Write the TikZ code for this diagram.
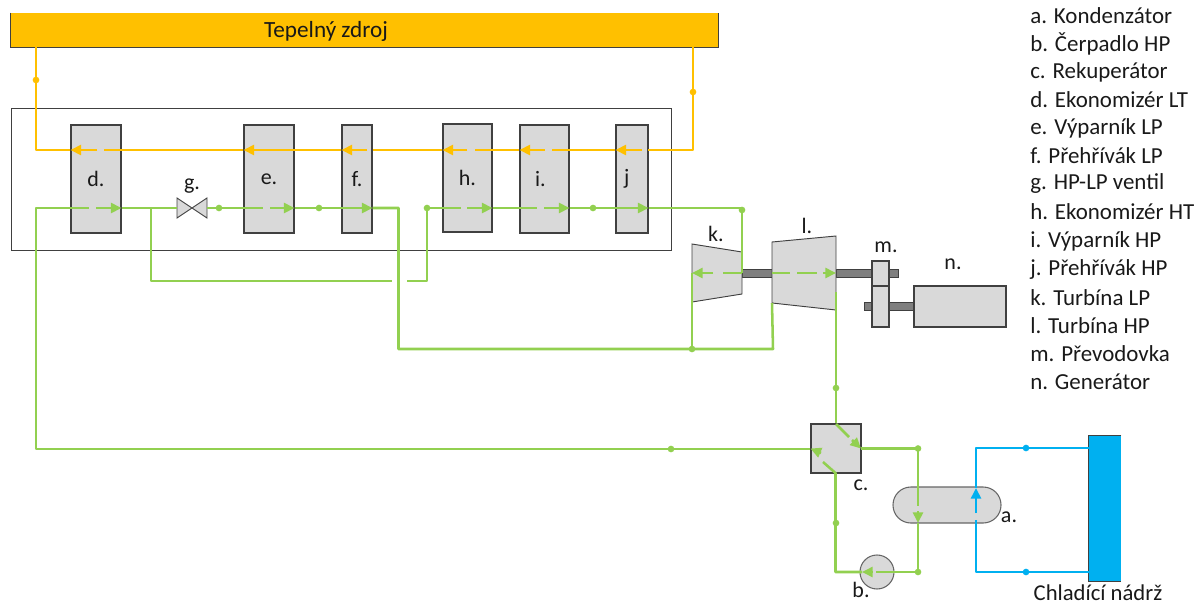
\documentclass[tikz,border=0pt]{standalone}
\usepackage{fontspec}
\setmainfont{Carlito}
\usetikzlibrary{arrows.meta,calc}
\definecolor{flowg}{HTML}{92D050}
\definecolor{flowo}{HTML}{FFC000}
\definecolor{flowb}{HTML}{00B0F0}
\definecolor{boxg}{HTML}{D9D9D9}
\definecolor{edgeg}{HTML}{404040}
\definecolor{shaftg}{HTML}{7F7F7F}
\tikzset{
  x=0.75pt,y=-0.75pt,
  wh/.style 2 args={minimum width=#1*0.75pt,minimum height=#2*0.75pt},
  block/.style={draw=edgeg,fill=boxg,line width=0.8pt,inner sep=0pt,font=\fontsize{16.5}{18}\selectfont,text=black!90},
  shaft/.style={draw=edgeg,fill=shaftg,line width=0.6pt,inner sep=0pt},
  lab/.style={inner sep=0pt,font=\fontsize{16.5}{18}\selectfont,text=black!90},
  legend/.style={inner sep=0pt,anchor=west,font=\fontsize{17.2}{18}\selectfont,text=black!90},
  title/.style={inner sep=0pt,font=\fontsize{17.4}{18}\selectfont,text=black!90},
  line/.style={line width=1.9pt,line join=round},
  gline/.style={line,draw=flowg},
  oline/.style={line,draw=flowo},
  bline/.style={line,draw=flowb},
  tip/.style={-{Triangle[length=8pt,width=7.5pt]}},
  gdot/.style={circle,fill=flowg,inner sep=0pt,minimum size=5pt},
  odot/.style={circle,fill=flowo,inner sep=0pt,minimum size=5pt},
  bdot/.style={circle,fill=flowb,inner sep=0pt,minimum size=5pt},
}
\begin{document}
\begin{tikzpicture}
\useasboundingbox (0,0) rectangle (1200,604);

% heat source and enclosure
\node[fill=flowo,wh={707}{34},inner sep=0pt] (src) at (364.5,30) {};
\draw[edgeg,line width=0.8pt] (src.north west) -- (src.south west) -- (src.south east) -- (src.north east);
\node[title] (srclab) at (326,31) {Tepelný zdroj};
\node[draw=edgeg,line width=0.75pt,wh={660}{142},inner sep=0pt] (hrsg) at (341,179) {};

% heat exchangers
\node[block,wh={50}{108}] (d) at (96,179) {\raisebox{-1.5pt}{d.}};
\node[block,wh={50}{108}] (e) at (269,179) {\raisebox{-1.5pt}{e.}};
\node[block,wh={30}{108}] (f) at (357,179) {\raisebox{-1.5pt}{f.}};
\node[block,wh={49}{108}] (h) at (467.5,178) {\raisebox{-1pt}{h.}};
\node[block,wh={49}{108}] (i) at (544.5,179) {\hspace{-6pt}i.};
\node[block,wh={32}{108}] (j) at (632,179) {\hspace{-8pt}j};

% valve
\coordinate (gc) at (192,208);
\filldraw[draw=edgeg,fill=boxg,line width=0.7pt] (177,198) -- (207,218) -- (207,198) -- (177,218) -- cycle;
\node[lab] (glab) at (192,186) {g.};

% shafts
\node[shaft,wh={30}{8}] (s1) at (757,273) {};
\node[shaft,wh={62}{8}] (s2) at (867,273) {};
\node[shaft,wh={50}{8}] (s3) at (889,306) {};

% turbines
\filldraw[draw=edgeg,fill=boxg,line width=0.7pt] (692,244) coordinate (kA) -- (742,252) coordinate (kB) -- (742,294) coordinate (kC) -- (692,302) coordinate (kD) -- cycle;
\filldraw[draw=edgeg,fill=boxg,line width=0.7pt] (772,242) coordinate (lA) -- (836,236) coordinate (lB) -- (836,310) coordinate (lC) -- (772,303) coordinate (lD) -- cycle;
\node[lab] (klab) at (716,234) {k.};
\node[lab] (llab) at (807,226) {l.};

% gearbox and generator
\node[block,wh={17}{25}] (m1) at (880.5,273.5) {};
\node[block,wh={17}{41}] (m2) at (880.5,306.5) {};
\node[lab] (mlab) at (886,247) {m.};
\node[block,wh={92}{41}] (n) at (960,306.5) {};
\node[lab] (nlab) at (953,264) {n.};

% recuperator, condenser, pump, tank
\node[block,wh={50}{49}] (c) at (836,448.5) {};
\node[lab] (clab) at (861,485) {c.};
\node[draw=edgeg!80,fill=boxg,line width=0.8pt,wh={108}{36},rounded corners=13.4pt,inner sep=0pt] (a) at (947,505) {};
\node[lab] (alab) at (1009,517) {a.};
\node[circle,draw=edgeg!80,fill=boxg,line width=0.8pt,minimum size=25.5pt,inner sep=0pt] (b) at (877,572) {};
\node[lab] (blab) at (861,590) {b.};
\node[fill=flowb,wh={32}{145},inner sep=0pt] (tank) at (1105,508.5) {};
\draw[edgeg,line width=0.8pt] (tank.north east) -- (tank.north west) -- (tank.south west) -- (tank.south east);
\node[title,anchor=base,font=\fontsize{17}{18}\selectfont] (tanklab) at (1098,600) {Chladící nádrž};

% orange circuit
\coordinate (oR) at (693,150);
\coordinate (oL) at (36,150);
\coordinate (oTR) at (693,47);
\coordinate (oTL) at (36,47);
\draw[oline] (oTR) -- (oR) -- (648,150) coordinate (oj1);
\coordinate (oj2) at (642,150);
\draw[oline,tip] (oj2) -- (j.west |- oR);
\draw[oline] (j.west |- oR) -- (552,150) coordinate (oi1);
\coordinate (oi2) at (545,150);
\draw[oline,tip] (oi2) -- (i.west |- oR);
\draw[oline] (i.west |- oR) -- (475,150) coordinate (oh1);
\coordinate (oh2) at (467,150);
\draw[oline,tip] (oh2) -- (h.west |- oR);
\draw[oline] (h.west |- oR) -- (373,150) coordinate (of1);
\coordinate (of2) at (367,150);
\draw[oline,tip] (of2) -- (f.west |- oR);
\draw[oline,tip] (f.west |- oR) -- (e.west |- oR);
\draw[oline] (e.west |- oR) -- (104,150) coordinate (od1);
\coordinate (od2) at (97,150);
\draw[oline,tip] (od2) -- (d.west |- oR);
\draw[oline] (d.west |- oR) -- (oL) -- (oTL);
\node[odot] (o1) at (36,80) {};
\node[odot] (o2) at (693,92) {};

% green circuit
\coordinate (gL) at (36,208);
\coordinate (gB) at (36,449);
\coordinate (gd1) at (89,208);
\coordinate (gd2) at (96,208);
\draw[gline] (c.west |- gB) -- (gB) -- (gL) -- (gd1);
\draw[gline,tip] (gd2) -- (d.east |- gL);
\draw[gline] (d.east |- gL) -- (177,208);
\draw[gline] (207,208) -- (e.west |- gL);
\coordinate (ge1) at (263,208);
\coordinate (ge2) at (270,208);
\draw[gline] (e.west |- gL) -- (ge1);
\draw[gline,tip] (ge2) -- (e.east |- gL);
\draw[gline,tip] (e.east |- gL) -- (f.east |- gL);
\coordinate (fT) at (398.5,208);
\coordinate (fB) at (398.5,349);
\coordinate (kBot) at (692,349);
\coordinate (lBot) at (773,349);
\draw[gline] (f.east |- gL) -- (fT) -- (fB) -- (kBot) -- (lBot) -- (lD);
\draw[gline] (kBot) -- (692,273);
% bypass
\coordinate (by1) at (151,208);
\coordinate (by2) at (151,281);
\coordinate (by3) at (392,281);
\coordinate (by4) at (407,281);
\coordinate (by5) at (427,281);
\coordinate (by6) at (427,208);
\draw[gline] (by1) -- (by2) -- (by3);
\draw[gline] (by4) -- (by5) -- (by6) -- (461,208) coordinate (gh1);
\coordinate (gh2) at (467,208);
\draw[gline,tip] (gh2) -- (h.east |- by6);
\draw[gline] (h.east |- by6) -- (537,208) coordinate (gi1);
\coordinate (gi2) at (544,208);
\draw[gline,tip] (gi2) -- (i.east |- gi2);
\coordinate (gjm) at (593,208);
\draw[gline,tip] (i.east |- gi2) -- (j.east |- gi2);
\coordinate (gjE) at (742,208);
\coordinate (kR) at (742,273);
\draw[gline] (j.east |- gjE) -- (gjE) -- (kR);
% turbine flows
\coordinate (gk1) at (723,273);
\coordinate (gk2) at (713,273);
\draw[gline] (kR) -- (gk1);
\draw[gline,tip] (gk2) -- (692,273);
\coordinate (gl1) at (772,273);
\coordinate (gl2) at (790,273);
\coordinate (gl3) at (797,273);
\coordinate (gl4) at (817,273);
\coordinate (gl5) at (823,273);
\draw[gline] (gl1) -- (gl2) (gl3) -- (gl4);
\draw[gline,tip] (gl5) -- (836,273);
\coordinate (lOut) at (836,292);
\draw[gline] (lOut) -- (c.north -| lOut);
% recuperator flows
\coordinate (cT) at (836,424);
\coordinate (cTd) at (849,437);
\coordinate (cTe) at (852,440);
\coordinate (cE) at (861,448.5);
\draw[gline] (cT) -- (cTd);
\draw[gline,tip] (cTe) -- (cE);
\coordinate (cR) at (918,448.5);
\coordinate (aG1) at (918,506);
\coordinate (aG2) at (918,511);
\coordinate (aG3) at (918,523);
\draw[gline] (cE) -- (cR) -- (aG1);
\draw[gline,tip] (aG2) -- (aG3);
\coordinate (pR) at (918,572);
\coordinate (pG1) at (876,572);
\coordinate (pG2) at (872,572);
\coordinate (pL) at (862,572);
\coordinate (cLc) at (835.5,572);
\coordinate (cBot) at (835.5,473);
\draw[gline] (aG3) -- (pR) -- (pG1);
\draw[gline,tip] (pG2) -- (pL);
\draw[gline] (pL) -- (cLc) -- (cBot) -- (823,462) coordinate (cB1);
\coordinate (cB2) at (821,453);
\draw[gline,tip] (cB2) -- (c.west);
\foreach \n/\p in {g1/by6,g2/gjm}{\node[gdot] (\n) at (\p) {};}
\node[gdot] (g3) at (219,208) {};
\node[gdot] (g4) at (319,208) {};
\node[gdot] (g5) at (742,210) {};
\node[gdot] (g6) at (692,349) {};
\node[gdot] (g7) at (836,388) {};
\node[gdot] (g8) at (671,449) {};
\node[gdot] (g9) at (918,448.5) {};
\node[gdot] (g10) at (918,572) {};
\node[gdot] (g11) at (836,523) {};

% blue circuit
\coordinate (bT) at (976,448);
\coordinate (bB) at (976,572);
\coordinate (bG1) at (976,520);
\coordinate (bG2) at (976,513);
\coordinate (bTip) at (976,488);
\draw[bline] (tank.west |- bT) -- (bT) -- (bTip);
\draw[bline] (tank.west |- bB) -- (bB) -- (bG1);
\draw[bline,tip] (bG2) -- (bTip);
\node[bdot] (b1) at (1026,448) {};
\node[bdot] (b2) at (1026,572) {};

% legend
\node[legend] (la) at (1030,16) {a. Kondenzátor};
\node[legend] (lb) at (1030,44) {b. Čerpadlo HP};
\node[legend] (lc) at (1030,72) {c. Rekuperátor};
\node[legend] (ld) at (1030,100) {d. Ekonomizér LT};
\node[legend] (le) at (1030,128) {e. Výparník LP};
\node[legend] (lf) at (1030,156) {f. Přehřívák LP};
\node[legend] (lg) at (1030,184) {g. HP-LP ventil};
\node[legend] (lh) at (1030,212) {h. Ekonomizér HT};
\node[legend] (li) at (1030,241) {i. Výparník HP};
\node[legend] (lj) at (1030,269) {j. Přehřívák HP};
\node[legend] (lk) at (1030,298) {k. Turbína LP};
\node[legend] (ll) at (1030,326) {l. Turbína HP};
\node[legend] (lm) at (1030,354) {m. Převodovka};
\node[legend] (ln) at (1030,382) {n. Generátor};
\end{tikzpicture}
\end{document}
